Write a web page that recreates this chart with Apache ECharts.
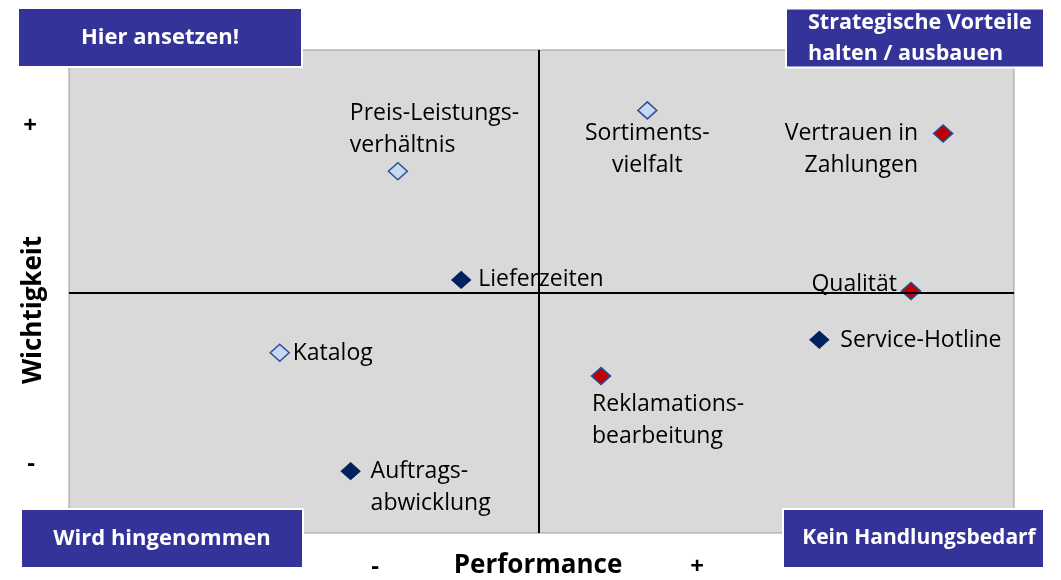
<!DOCTYPE html>
<html>
<head>
<meta charset="utf-8">
<title>Portfolio Wichtigkeit / Performance</title>
<script src="https://cdn.jsdelivr.net/npm/echarts@6/dist/echarts.min.js"></script>
<style>
  html, body { margin: 0; padding: 0; background: #fff; }
  #chart { width: 1061px; height: 580px; }
</style>
</head>
<body>
<div id="chart"></div>
<script>
  // Daten (Achsen 0..10, Kreuz in der Mitte)
  const names = ['Preis-Leistungs-\nverhältnis', 'Sortiments-\nvielfalt', 'Vertrauen in\nZahlungen',
    'Lieferzeiten', 'Qualität', 'Service-Hotline', 'Katalog',
    'Reklamations-\nbearbeitung', 'Auftrags-\nabwicklung']
  const performance = [3.48, 6.12, 9.25, 4.15, 8.91, 7.94, 2.23, 5.63, 2.98]
  const wichtigkeit = [7.49, 8.75, 8.27, 5.24, 5.01, 4.00, 3.73, 3.25, 1.28]
  const gruppe = ['hell', 'hell', 'rot', 'blau', 'rot', 'blau', 'hell', 'rot', 'blau']
  const kreuz = [4.97, 4.97]
  const quadranten = ['Hier ansetzen!', 'Strategische Vorteile\nhalten / ausbauen', 'Wird hingenommen', 'Kein Handlungsbedarf']

  const font = '"Open Sans", Lato, sans-serif'
  const boxColor = '#333399'

  const markerStyle = {
    hell: { color: '#c6d9f1', borderColor: '#2f5597', borderWidth: 1.5, opacity: 1 },
    blau: { color: '#002060', borderColor: '#002060', borderWidth: 1, opacity: 1 },
    rot: { color: '#c00000', borderColor: '#1f4e9a', borderWidth: 1.5, opacity: 1 }
  }
  // label placement relative to the marker centre
  const labelPlace = [
    { offset: [-48, -42], align: 'left' },
    { offset: [0, 39], align: 'center' },
    { offset: [-25, 16], align: 'right' },
    { offset: [17, 0], align: 'left' },
    { offset: [-14, -7], align: 'right' },
    { offset: [21, 1], align: 'left' },
    { offset: [13, 1], align: 'left' },
    { offset: [-9, 44], align: 'left' },
    { offset: [20, 16], align: 'left' }
  ]

  const points = names.map((n, i) => ({
    name: n,
    value: [performance[i], wichtigkeit[i]],
    itemStyle: markerStyle[gruppe[i]],
    label: {
      show: true,
      position: 'inside',
      offset: labelPlace[i].offset,
      align: labelPlace[i].align,
      verticalAlign: 'middle',
      formatter: '{b}',
      color: '#000',
      fontFamily: font,
      fontSize: 23,
      lineHeight: 32
    }
  }))

  function box(x, y, w, h, text, opts) {
    opts = opts || {}
    return {
      type: 'group',
      left: x, top: y,
      children: [
        { type: 'rect', shape: { x: 0, y: 0, width: w, height: h },
          style: { fill: boxColor, stroke: '#fff', lineWidth: 2 } },
        { type: 'text', x: opts.tx != null ? opts.tx : w / 2, y: h / 2,
          style: { text: text, fill: '#fff', font: 'bold ' + (opts.size || 22) + 'px ' + font,
            align: opts.align || 'center', verticalAlign: 'middle', lineHeight: 31 } }
      ]
    }
  }

  const chart = echarts.init(document.getElementById('chart'))
  chart.setOption({
    animation: false,
    grid: {
      left: 69, right: 47, top: 50, bottom: 47,
      show: true,
      backgroundColor: '#d9d9d9',
      borderColor: '#9a9a9a',
      borderWidth: 1
    },
    xAxis: { type: 'value', min: 0, max: 10, show: false },
    yAxis: { type: 'value', min: 0, max: 10, show: false },
    series: [{
      type: 'scatter',
      symbol: 'diamond',
      symbolSize: [19, 17],
      data: points,
      markLine: {
        silent: true,
        symbol: 'none',
        label: { show: false },
        lineStyle: { color: '#000', width: 2, type: 'solid' },
        data: [{ xAxis: kreuz[0] }, { yAxis: kreuz[1] }]
      }
    }],
    graphic: [
      box(17, 7, 284, 59, quadranten[0]),
      box(785, 7, 258, 59, quadranten[1], { tx: 22, align: 'left', size: 21.5 }),
      box(20, 508, 282, 59, quadranten[2]),
      box(782, 508, 261, 59, quadranten[3], { tx: 136, size: 21 }),
      { type: 'text', x: 30, y: 126, style: { text: '+', font: 'bold 24px ' + font, fill: '#000', align: 'center', verticalAlign: 'middle' } },
      { type: 'text', x: 31, y: 464, style: { text: '-', font: 'bold 24px ' + font, fill: '#000', align: 'center', verticalAlign: 'middle' } },
      { type: 'text', x: 34, y: 310, rotation: Math.PI / 2,
        style: { text: 'Wichtigkeit', font: 'bold 26px ' + font, fill: '#000', align: 'center', verticalAlign: 'middle' } },
      { type: 'text', x: 375, y: 567, style: { text: '-', font: 'bold 24px ' + font, fill: '#000', align: 'center', verticalAlign: 'middle' } },
      { type: 'text', x: 538, y: 566, style: { text: 'Performance', font: 'bold 26px ' + font, fill: '#000', align: 'center', verticalAlign: 'middle' } },
      { type: 'text', x: 697, y: 567, style: { text: '+', font: 'bold 24px ' + font, fill: '#000', align: 'center', verticalAlign: 'middle' } }
    ]
  })
</script>
</body>
</html>
